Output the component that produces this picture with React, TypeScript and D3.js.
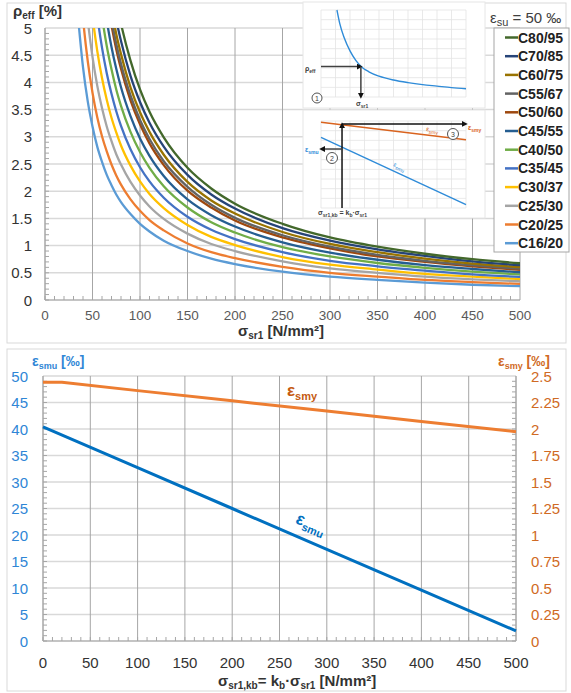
import React from 'react';
import * as d3 from 'd3';

// top chart: rho_eff [%] vs sigma_sr1, one curve per concrete class
const SIGMA = [35, 40, 45, 50, 55, 60, 65, 70, 75, 80, 90, 100, 110, 125, 150, 175, 200, 250, 300, 350, 400, 450, 500];
const C16_20 = [5.16, 4.28, 3.65, 3.19, 2.82, 2.54, 2.3, 2.11, 1.94, 1.8, 1.58, 1.4, 1.26, 1.09, 0.9, 0.76, 0.66, 0.52, 0.43, 0.37, 0.32, 0.28, 0.255];
const C20_25 = [6.32, 5.18, 4.39, 3.81, 3.36, 3.01, 2.73, 2.49, 2.29, 2.12, 1.85, 1.64, 1.47, 1.28, 1.04, 0.88, 0.77, 0.61, 0.5, 0.43, 0.37, 0.33, 0.295];
const C25_30 = [null, 6.08, 5.15, 4.47, 3.94, 3.53, 3.19, 2.92, 2.68, 2.49, 2.17, 1.92, 1.72, 1.49, 1.22, 1.03, 0.9, 0.71, 0.58, 0.5, 0.43, 0.38, 0.345];
const C30_37 = [null, null, 6.07, 5.22, 4.58, 4.08, 3.68, 3.35, 3.08, 2.84, 2.47, 2.18, 1.95, 1.69, 1.38, 1.16, 1.01, 0.79, 0.65, 0.56, 0.48, 0.43, 0.385];
const C35_45 = [null, null, null, 5.99, 5.23, 4.64, 4.17, 3.79, 3.47, 3.2, 2.77, 2.44, 2.18, 1.88, 1.53, 1.29, 1.12, 0.88, 0.72, 0.62, 0.54, 0.47, 0.425];
const C40_50 = [null, null, null, null, 5.88, 5.21, 4.67, 4.24, 3.87, 3.57, 3.09, 2.72, 2.43, 2.09, 1.7, 1.43, 1.24, 0.97, 0.8, 0.68, 0.59, 0.52, 0.47];
const C45_55 = [null, null, null, null, null, 5.73, 5.14, 4.65, 4.25, 3.91, 3.38, 2.97, 2.65, 2.28, 1.85, 1.56, 1.35, 1.06, 0.87, 0.74, 0.64, 0.57, 0.51];
const C50_60 = [null, null, null, null, null, null, 5.57, 5.05, 4.61, 4.25, 3.67, 3.23, 2.88, 2.48, 2.01, 1.7, 1.46, 1.15, 0.95, 0.8, 0.7, 0.62, 0.555];
const C55_67 = [null, null, null, null, null, null, 5.67, 5.15, 4.71, 4.34, 3.76, 3.31, 2.96, 2.55, 2.08, 1.75, 1.51, 1.19, 0.98, 0.83, 0.72, 0.64, 0.575];
const C60_75 = [null, null, null, null, null, null, null, 5.34, 4.89, 4.52, 3.91, 3.45, 3.09, 2.67, 2.17, 1.83, 1.59, 1.25, 1.03, 0.88, 0.76, 0.67, 0.605];
const C70_85 = [null, null, null, null, null, null, null, 5.61, 5.15, 4.76, 4.12, 3.64, 3.26, 2.82, 2.3, 1.94, 1.68, 1.32, 1.09, 0.93, 0.81, 0.71, 0.64];
const C80_95 = [null, null, null, null, null, null, null, null, 5.51, 5.08, 4.4, 3.87, 3.46, 2.99, 2.43, 2.05, 1.77, 1.4, 1.15, 0.98, 0.85, 0.75, 0.675];

const CLASSES = ['C80/95', 'C70/85', 'C60/75', 'C55/67', 'C50/60', 'C45/55', 'C40/50', 'C35/45', 'C30/37', 'C25/30', 'C20/25', 'C16/20'];
const CLASS_VALUES = [C80_95, C70_85, C60_75, C55_67, C50_60, C45_55, C40_50, C35_45, C30_37, C25_30, C20_25, C16_20];
const CLASS_COLORS = ['#43682B', '#264478', '#997300', '#636363', '#9E480E', '#255E91', '#70AD47', '#4472C4', '#FFC000', '#A5A5A5', '#ED7D31', '#5B9BD5'];

const RHO_TICKS = [0, 0.5, 1, 1.5, 2, 2.5, 3, 3.5, 4, 4.5, 5];
const SIGMA_TICKS = [0, 50, 100, 150, 200, 250, 300, 350, 400, 450, 500];

// bottom chart: strains vs sigma_sr1,kb
const KB_SIGMA_Y = [0, 20, 100, 200, 300, 400, 500];
const EPS_SMY = [2.44, 2.44, 2.362, 2.266, 2.169, 2.071, 1.975];
const KB_SIGMA_U = [0, 100, 200, 300, 400, 500];
const EPS_SMU = [40.4, 32.7, 25.0, 17.3, 9.6, 1.9];
const SMU_TICKS = [0, 5, 10, 15, 20, 25, 30, 35, 40, 45, 50];
const SMY_TICKS = [0, 0.25, 0.5, 0.75, 1, 1.25, 1.5, 1.75, 2, 2.25, 2.5];

// inset sketches, drawn on a unitless 0..10 grid
const SKETCH_X = [1.1, 1.3, 1.6, 2, 2.4, 2.8, 3.3, 4, 5, 6, 7, 8, 9, 10];
const SKETCH_RHO = [10, 8.4, 6.8, 5.3, 4.2, 3.45, 2.9, 2.4, 1.95, 1.65, 1.42, 1.25, 1.08, 0.95];
const SKETCH2_X = [0, 10];
const SKETCH_SMY = [9.85, 7.85];
const SKETCH_SMU = [8.13, 0.38];

const FONT = 'Liberation Sans, Arial, sans-serif';
const GRID_H = '#d9d9d9';
const GRID_V = '#a6a6a6';
const DARK = '#404040';

const Sub = ({ main, sub, after, size, subSize, shift = 4 }: any) => (
  <>
    <tspan fontSize={size}>{main}</tspan>
    <tspan fontSize={subSize} dy={shift}>{sub}</tspan>
    <tspan fontSize={size} dy={-shift}>{after}</tspan>
  </>
);

const Inset1 = () => {
  const x = d3.scaleLinear().domain([0, 10]).range([321, 466]);
  const y = d3.scaleLinear().domain([0, 10]).range([97, 10]);
  const line = d3.line<number>().x((d, i) => x(SKETCH_X[i])).y((d) => y(d)).curve(d3.curveMonotoneX);
  const px = x(2.75), py = y(SKETCH_RHO[5] + 0.05);
  return (
    <g>
      <rect x={303} y={2} width={182} height={106} fill="#fff" stroke="#e6e6e6" />
      {d3.range(0, 11).map((i) => (
        <line key={'v' + i} x1={x(i)} x2={x(i)} y1={y(0)} y2={y(10)} stroke="#e3e3e3" strokeWidth={0.8} />
      ))}
      {d3.range(0, 10).map((i) => (
        <line key={'h' + i} x1={x(0)} x2={x(10)} y1={y((i * 10) / 9)} y2={y((i * 10) / 9)} stroke="#e3e3e3" strokeWidth={0.8} />
      ))}
      <path d={line(SKETCH_RHO) || ''} fill="none" stroke="#2E8BD8" strokeWidth={1.4} />
      <line x1={x(0)} x2={px - 3} y1={py} y2={py} stroke={DARK} strokeWidth={1.5} markerEnd="url(#arr)" />
      <line x1={px} x2={px} y1={py} y2={y(0) - 3} stroke={DARK} strokeWidth={1.5} markerEnd="url(#arr)" />
      <text x={305} y={71} fontFamily={FONT} fill={DARK} fontWeight="bold">
        <Sub main="ρ" sub="eff" after="" size={7} subSize={5} shift={2} />
      </text>
      <text x={356} y={106} fontFamily={FONT} fill={DARK} fontWeight="bold">
        <Sub main="σ" sub="sr1" after="" size={7} subSize={5} shift={2} />
      </text>
      <circle cx={317} cy={98} r={5} fill="#fff" stroke={DARK} strokeWidth={0.9} />
      <text x={317} y={100.5} textAnchor="middle" fontFamily={FONT} fontSize={7} fill={DARK}>1</text>
    </g>
  );
};

const Inset2 = () => {
  const x = d3.scaleLinear().domain([0, 10]).range([321, 466]);
  const y = d3.scaleLinear().domain([0, 10]).range([208, 121]);
  const line = d3.line<number>().x((d, i) => x(SKETCH2_X[i])).y((d) => y(d));
  const ax = x(1.45);
  return (
    <g>
      <rect x={303} y={110} width={182} height={108} fill="#fff" stroke="#e6e6e6" />
      {d3.range(0, 11).map((i) => (
        <line key={'v' + i} x1={x(i)} x2={x(i)} y1={y(0)} y2={y(10)} stroke="#e3e3e3" strokeWidth={0.8} />
      ))}
      {d3.range(0, 10).map((i) => (
        <line key={'h' + i} x1={x(0)} x2={x(10)} y1={y((i * 10) / 9)} y2={y((i * 10) / 9)} stroke="#e3e3e3" strokeWidth={0.8} />
      ))}
      <path d={line(SKETCH_SMY) || ''} fill="none" stroke="#D9631E" strokeWidth={1.4} />
      <path d={line(SKETCH_SMU) || ''} fill="none" stroke="#2E8BD8" strokeWidth={1.4} />
      <line x1={ax} x2={ax} y1={y(0)} y2={y(9.66) + 3} stroke="#111" strokeWidth={1.5} markerEnd="url(#arr)" />
      <line x1={ax} x2={x(10) - 3} y1={y(9.66)} y2={y(9.66)} stroke="#111" strokeWidth={1.5} markerEnd="url(#arr)" />
      <line x1={ax} x2={x(0) + 3} y1={y(6.78)} y2={y(6.78)} stroke={DARK} strokeWidth={1.5} markerEnd="url(#arr)" />
      <text x={468} y={130} fontFamily={FONT} fill="#D9631E" fontWeight="bold">
        <Sub main="ε" sub="smy" after="" size={7} subSize={5} shift={2} />
      </text>
      <text x={305} y={152} fontFamily={FONT} fill="#2E8BD8" fontWeight="bold">
        <Sub main="ε" sub="smu" after="" size={7} subSize={5} shift={2} />
      </text>
      <text x={426} y={131} fontFamily={FONT} fill="#D9631E" transform="rotate(8 426 131)">
        <Sub main="ε" sub="smy" after="" size={6.5} subSize={5} shift={2} />
      </text>
      <text x={393} y={166} fontFamily={FONT} fill="#2E8BD8" transform="rotate(25 393 166)">
        <Sub main="ε" sub="smu" after="" size={6.5} subSize={5} shift={2} />
      </text>
      <circle cx={332} cy={158} r={5.5} fill="#fff" stroke={DARK} strokeWidth={0.9} />
      <text x={332} y={160.5} textAnchor="middle" fontFamily={FONT} fontSize={7} fill={DARK}>2</text>
      <circle cx={453} cy={134} r={5.5} fill="#fff" stroke={DARK} strokeWidth={0.9} />
      <text x={453} y={136.5} textAnchor="middle" fontFamily={FONT} fontSize={7} fill={DARK}>3</text>
      <text x={318} y={215} fontFamily={FONT} fill={DARK} fontWeight="bold">
        <tspan fontSize={7}>σ</tspan>
        <tspan fontSize={5} dy={2}>sr1,kb</tspan>
        <tspan fontSize={7} dy={-2}> = k</tspan>
        <tspan fontSize={5} dy={2}>b</tspan>
        <tspan fontSize={7} dy={-2}>·σ</tspan>
        <tspan fontSize={5} dy={2}>sr1</tspan>
      </text>
    </g>
  );
};

const TopChart = () => {
  const x = d3.scaleLinear().domain([0, 500]).range([45, 520]);
  const y = d3.scaleLinear().domain([0, 5]).range([300, 28]);
  const line = d3
    .line<number | null>()
    .defined((d) => d !== null)
    .x((d, i) => x(SIGMA[i]))
    .y((d) => y(d as number))
    .curve(d3.curveMonotoneX);

  return (
    <g>
      <rect x={7} y={3} width={559} height={340} fill="#fff" stroke="#d9d9d9" />
      <clipPath id="topclip">
        <rect x={x(0)} y={y(5)} width={x(500) - x(0)} height={y(0) - y(5)} />
      </clipPath>
      {RHO_TICKS.map((t) => (
        <line key={'h' + t} x1={x(0)} x2={x(500)} y1={y(t)} y2={y(t)} stroke={GRID_H} strokeWidth={1.5} />
      ))}
      {SIGMA_TICKS.map((t) => (
        <line key={'v' + t} x1={x(t)} x2={x(t)} y1={y(0)} y2={y(5)} stroke={GRID_V} strokeWidth={1} />
      ))}
      {/* minor ticks */}
      {d3.range(0, 50).map((i) => (
        <line key={'my' + i} x1={x(0)} x2={x(0) + 4} y1={y(i / 10)} y2={y(i / 10)} stroke={GRID_V} />
      ))}
      {d3.range(0, 50).map((i) => (
        <line key={'mx' + i} x1={x(i * 10)} x2={x(i * 10)} y1={y(0)} y2={y(0) - 4} stroke={GRID_V} />
      ))}
      <line x1={x(0)} x2={x(500)} y1={y(0)} y2={y(0)} stroke={GRID_V} />
      <line x1={x(0)} x2={x(0)} y1={y(0)} y2={y(5)} stroke={GRID_V} />

      <g clipPath="url(#topclip)">
        {CLASS_VALUES.slice()
          .reverse()
          .map((vals, i) => (
            <path
              key={CLASSES[11 - i]}
              d={line(vals) || ''}
              fill="none"
              stroke={CLASS_COLORS[11 - i]}
              strokeWidth={2.3}
            />
          ))}
      </g>

      {RHO_TICKS.map((t) => (
        <text key={'yl' + t} x={32} y={y(t) + 5.5} textAnchor="end" fontFamily={FONT} fontSize={15} fill="#333">
          {String(t)}
        </text>
      ))}
      {SIGMA_TICKS.map((t) => (
        <text key={'xl' + t} x={x(t)} y={320} textAnchor="middle" fontFamily={FONT} fontSize={13.5} fill="#595959">
          {String(t)}
        </text>
      ))}
      <text x={13} y={16} fontFamily={FONT} fontWeight="bold" fill="#333">
        <Sub main="ρ" sub="eff" after=" [%]" size={15} subSize={10} shift={3} />
      </text>
      <text x={238} y={336} fontFamily={FONT} fontWeight="bold" fill="#333">
        <Sub main="σ" sub="sr1" after=" [N/mm²]" size={15} subSize={10} shift={3} />
      </text>

      <Inset1 />
      <Inset2 />

      {/* legend */}
      <text x={490} y={23} fontFamily={FONT} fill={DARK}>
        <Sub main="ε" sub="su" after=" = 50 ‰" size={15} subSize={11} shift={3} />
      </text>
      <rect x={494} y={28} width={75} height={224} fill="#fff" stroke="#a6a6a6" />
      {CLASSES.map((c, i) => {
        const cy = 37.5 + i * 18.7;
        return (
          <g key={c}>
            <line x1={505} x2={518} y1={cy} y2={cy} stroke={CLASS_COLORS[i]} strokeWidth={2.5} />
            <text x={518} y={cy + 5} fontFamily={FONT} fontSize={14} fontWeight="bold" fill="#222">
              {c}
            </text>
          </g>
        );
      })}
    </g>
  );
};

const BottomChart = () => {
  const x = d3.scaleLinear().domain([0, 500]).range([43, 516]);
  const yL = d3.scaleLinear().domain([0, 50]).range([641, 376]);
  const yR = d3.scaleLinear().domain([0, 2.5]).range([641, 376]);
  const smy = d3
    .line<number>()
    .x((d, i) => x(KB_SIGMA_Y[i]))
    .y((d) => yR(d));
  const smu = d3
    .line<number>()
    .x((d, i) => x(KB_SIGMA_U[i]))
    .y((d) => yL(d));

  const blueTxt = '#2F86D6';
  const orangeTxt = '#D06A24';

  // label along the eps_smu line
  const lx0 = 262;
  const lv0 = EPS_SMU[2] + ((EPS_SMU[3] - EPS_SMU[2]) * (lx0 - 200)) / 100;
  const ang =
    (Math.atan2(yL(EPS_SMU[5]) - yL(EPS_SMU[0]), x(KB_SIGMA_U[5]) - x(KB_SIGMA_U[0])) * 180) / Math.PI;
  const lpx = x(lx0) + 4;
  const lpy = yL(lv0) - 11;

  return (
    <g>
      <rect x={7} y={349} width={559} height={342} fill="#fff" stroke="#d9d9d9" />
      {SMU_TICKS.map((t) => (
        <line key={'h' + t} x1={x(0)} x2={x(500)} y1={yL(t)} y2={yL(t)} stroke={GRID_H} strokeWidth={1.5} />
      ))}
      {SIGMA_TICKS.map((t) => (
        <line key={'v' + t} x1={x(t)} x2={x(t)} y1={yL(0)} y2={yL(50)} stroke={GRID_V} strokeWidth={1} />
      ))}
      {d3.range(0, 50).map((i) => (
        <line key={'ml' + i} x1={x(0)} x2={x(0) + 4} y1={yL(i)} y2={yL(i)} stroke={GRID_V} />
      ))}
      {d3.range(0, 50).map((i) => (
        <line key={'mr' + i} x1={x(500)} x2={x(500) - 4} y1={yR(i * 0.05)} y2={yR(i * 0.05)} stroke={GRID_V} />
      ))}
      {d3.range(0, 50).map((i) => (
        <line key={'mx' + i} x1={x(i * 10)} x2={x(i * 10)} y1={yL(0)} y2={yL(0) - 4} stroke={GRID_V} />
      ))}
      <line x1={x(0)} x2={x(500)} y1={yL(0)} y2={yL(0)} stroke={GRID_V} />
      <line x1={x(0)} x2={x(0)} y1={yL(0)} y2={yL(50)} stroke={GRID_V} />
      <line x1={x(500)} x2={x(500)} y1={yL(0)} y2={yL(50)} stroke={GRID_V} />

      <path d={smy(EPS_SMY) || ''} fill="none" stroke="#ED7D31" strokeWidth={3} strokeLinejoin="round" />
      <path d={smu(EPS_SMU) || ''} fill="none" stroke="#0070C0" strokeWidth={3} />

      {SMU_TICKS.map((t) => (
        <text key={'yl' + t} x={28} y={yL(t) + 5.5} textAnchor="end" fontFamily={FONT} fontSize={15} fill={blueTxt}>
          {String(t)}
        </text>
      ))}
      {SMY_TICKS.map((t) => (
        <text key={'yr' + t} x={531} y={yR(t) + 5.5} fontFamily={FONT} fontSize={15} fill={orangeTxt}>
          {String(t)}
        </text>
      ))}
      {SIGMA_TICKS.map((t) => (
        <text key={'xl' + t} x={x(t)} y={668} textAnchor="middle" fontFamily={FONT} fontSize={15} fill="#333">
          {String(t)}
        </text>
      ))}

      <text x={32} y={366} fontFamily={FONT} fontWeight="bold" fill={blueTxt}>
        <Sub main="ε" sub="smu" after=" [‰]" size={14} subSize={9} shift={3} />
      </text>
      <text x={498} y={366} fontFamily={FONT} fontWeight="bold" fill={orangeTxt}>
        <Sub main="ε" sub="smy" after=" [‰]" size={14} subSize={9} shift={3} />
      </text>

      <text x={287} y={396} fontFamily={FONT} fontWeight="bold" fill="#C55A11">
        <Sub main="ε" sub="smy" after="" size={17} subSize={11} />
      </text>
      <text x={lpx} y={lpy} fontFamily={FONT} fontWeight="bold" fill="#0070C0" transform={`rotate(${ang} ${lpx} ${lpy})`}>
        <Sub main="ε" sub="smu" after="" size={17} subSize={11} />
      </text>

      <text x={218} y={686} fontFamily={FONT} fontWeight="bold" fill="#333">
        <tspan fontSize={15}>σ</tspan>
        <tspan fontSize={10} dy={3}>sr1,kb</tspan>
        <tspan fontSize={15} dy={-3}>= k</tspan>
        <tspan fontSize={10} dy={3}>b</tspan>
        <tspan fontSize={15} dy={-3}>·σ</tspan>
        <tspan fontSize={10} dy={3}>sr1</tspan>
        <tspan fontSize={15} dy={-3}> [N/mm²]</tspan>
      </text>
    </g>
  );
};

export default function App() {
  return (
    <svg width={571} height={693} style={{ position: 'absolute', left: 0, top: 0, background: '#fff' }}>
      <defs>
        <marker id="arr" viewBox="0 0 10 10" refX={2} refY={5} markerWidth={4} markerHeight={4} orient="auto">
          <path d="M0,0 L10,5 L0,10 z" fill="#111" />
        </marker>
      </defs>
      <rect width={571} height={693} fill="#fff" />
      <TopChart />
      <BottomChart />
    </svg>
  );
}
